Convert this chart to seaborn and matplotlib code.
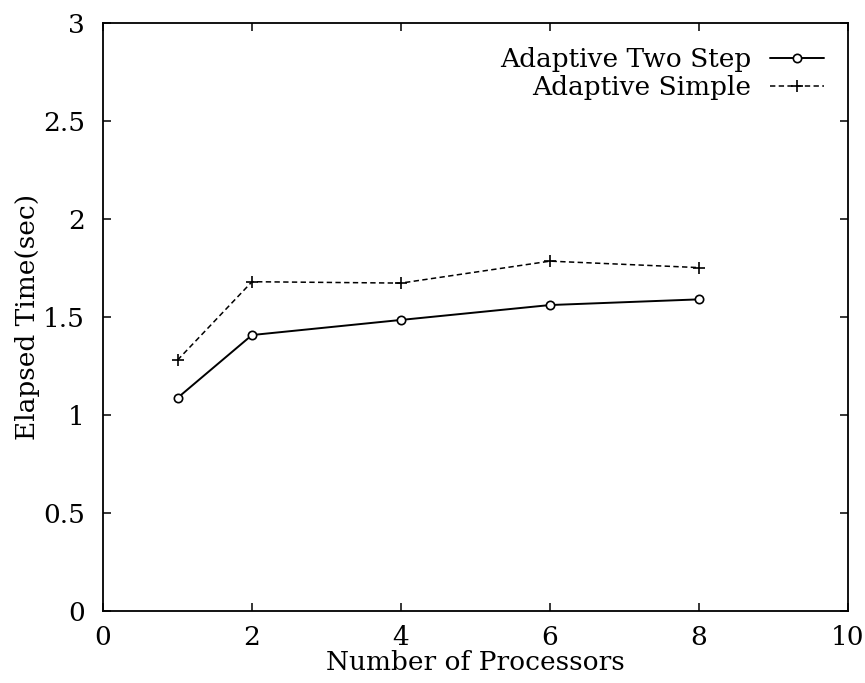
import matplotlib
matplotlib.use("Agg")
import matplotlib.pyplot as plt
import seaborn as sns
import pandas as pd

processors = [1, 2, 4, 6, 8]
two_step = [1.087, 1.408, 1.485, 1.561, 1.59]
simple = [1.28, 1.68, 1.673, 1.785, 1.752]
x_ticks = [0, 2, 4, 6, 8, 10]
y_ticks = [0, 0.5, 1, 1.5, 2, 2.5, 3]
y_tick_labels = ["0", "0.5", "1", "1.5", "2", "2.5", "3"]
series_names = ["Adaptive Two Step", "Adaptive Simple"]

sns.set_theme(style="ticks")
plt.rcParams['font.family'] = ['DejaVu Serif', 'Liberation Serif']
plt.rcParams['text.color'] = 'black'
plt.rcParams['axes.labelcolor'] = 'black'

W, H = 865, 683
fig = plt.figure(figsize=(W / 100, H / 100), dpi=100)
L, R, T, B = 103, 848, 23, 611
ax = fig.add_axes([L / W, 1 - B / H, (R - L) / W, (B - T) / H])

df = pd.DataFrame({
    "x": processors * 2,
    "y": two_step + simple,
    "series": [series_names[0]] * len(processors) + [series_names[1]] * len(processors),
})

sns.lineplot(data=df[df.series == series_names[0]], x="x", y="y", ax=ax,
             color="black", lw=1.4, marker="o", markersize=6, markerfacecolor="white",
             markeredgecolor="black", markeredgewidth=1.2, label=series_names[0])
sns.lineplot(data=df[df.series == series_names[1]], x="x", y="y", ax=ax,
             color="black", lw=1.1, linestyle=(0, (3.5, 2.2)), marker="+", markersize=9,
             markeredgecolor="black", markeredgewidth=1.2, label=series_names[1])

ax.set_xlim(0, 10)
ax.set_ylim(0, 3)
ax.set_xticks(x_ticks)
ax.set_yticks(y_ticks)
ax.set_yticklabels(y_tick_labels)
ax.tick_params(direction="in", length=6, top=True, right=True, labelsize=19,
               colors="black", width=1.1)
ax.tick_params(axis="x", pad=10)
ax.tick_params(axis="y", pad=13)
for s in ax.spines.values():
    s.set_linewidth(1.3)
    s.set_color("black")
ax.set_xlabel("Number of Processors", fontsize=19, labelpad=0)
ax.set_ylabel("Elapsed Time(sec)", fontsize=19, labelpad=2)

leg = ax.legend(loc="upper right", frameon=False, markerfirst=False, fontsize=19,
                handlelength=2.05, handletextpad=0.72, labelspacing=0.12,
                borderaxespad=0.5, borderpad=0.4)
for t in leg.get_texts():
    t.set_ha("right")
    t.set_color("black")

fig.savefig("out.png", dpi=100)
